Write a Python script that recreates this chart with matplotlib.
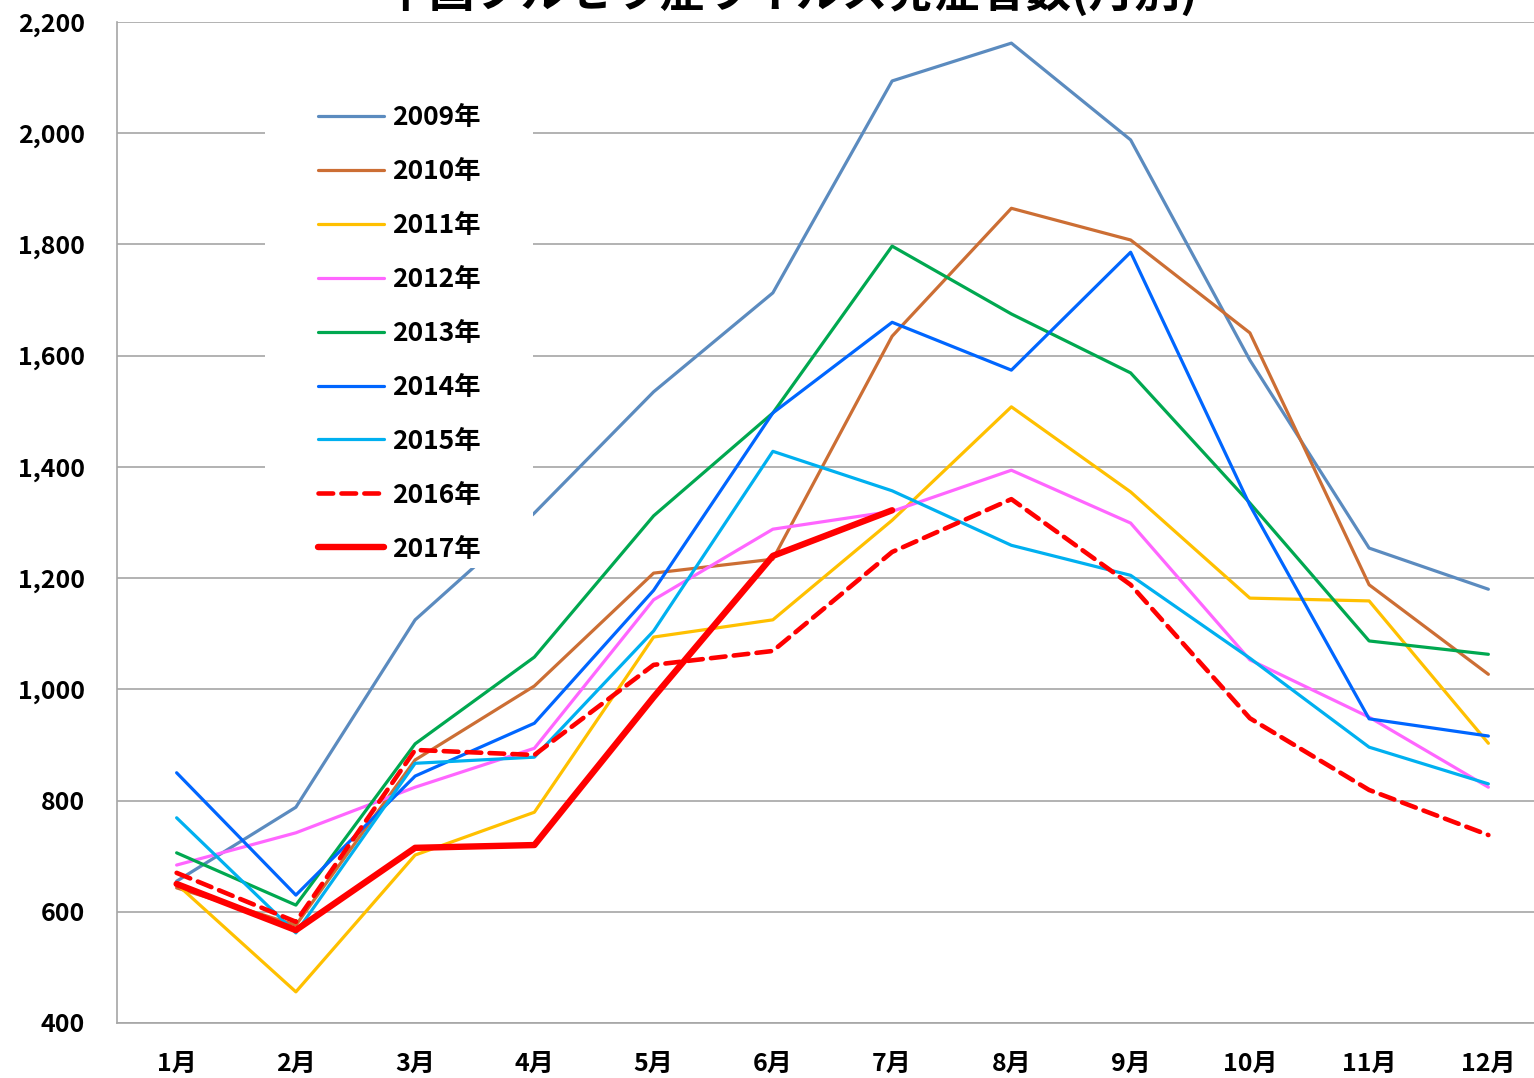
import matplotlib
matplotlib.use("Agg")
import matplotlib.pyplot as plt
from matplotlib.ticker import FuncFormatter
from matplotlib.patches import Rectangle

plt.rcParams['font.family'] = ['Noto Sans CJK JP', 'DejaVu Sans']

months = ['1月', '2月', '3月', '4月', '5月', '6月', '7月', '8月', '9月', '10月', '11月', '12月']
title = '中国ブルセラ症ウイルス発症者数(月別)'

y2009 = [655, 788, 1125, 1317, 1535, 1713, 2094, 2162, 1988, 1592, 1254, 1180]
y2010 = [643, 576, 873, 1006, 1209, 1234, 1635, 1865, 1808, 1641, 1188, 1027]
y2011 = [650, 456, 702, 779, 1094, 1125, 1304, 1508, 1355, 1164, 1159, 903]
y2012 = [684, 742, 824, 894, 1161, 1288, 1320, 1394, 1299, 1053, 950, 824]
y2013 = [706, 612, 902, 1058, 1312, 1497, 1797, 1675, 1569, 1335, 1087, 1063]
y2014 = [850, 630, 844, 939, 1178, 1497, 1660, 1574, 1786, 1331, 947, 916]
y2015 = [769, 562, 867, 878, 1105, 1428, 1357, 1259, 1205, 1056, 896, 830]
y2016 = [670, 582, 891, 882, 1044, 1069, 1247, 1342, 1188, 948, 819, 738]
y2017 = [650, 567, 715, 720, 986, 1240, 1322]

series = [
    ('2009年', y2009, '#5B8BBF', 2.3, '-'),
    ('2010年', y2010, '#CC6E34', 2.3, '-'),
    ('2011年', y2011, '#FFC000', 2.3, '-'),
    ('2012年', y2012, '#FF66FF', 2.3, '-'),
    ('2013年', y2013, '#00A850', 2.3, '-'),
    ('2014年', y2014, '#0066FF', 2.3, '-'),
    ('2015年', y2015, '#00B0F0', 2.3, '-'),
    ('2016年', y2016, '#FF0000', 3.3, '--'),
    ('2017年', y2017, '#FF0000', 4.6, '-'),
]

fig = plt.figure(figsize=(15.34, 10.78), dpi=100)
ax = fig.add_axes([117/1534, 55/1078, (1548-117)/1534, 1001/1078])

x = list(range(len(months)))
for name, vals, col, lw, ls in series:
    kw = {}
    if ls == '--':
        kw['dashes'] = (3.2, 1.8)
    ax.plot(x[:len(vals)], vals, color=col, lw=lw, ls=ls, label=name,
            solid_capstyle='round', dash_capstyle='round', **kw)

ax.set_xlim(-0.5, 11.5)
ax.set_ylim(400, 2200)
ax.set_yticks(range(400, 2201, 200))
ax.yaxis.set_major_formatter(FuncFormatter(lambda v, p: f'{int(v):,}'))
ax.set_xticks(x)
ax.set_xticklabels(months)
ax.grid(axis='y', color='#A6A6A6', lw=1.2)
ax.set_axisbelow(True)
for s in ['top', 'right']:
    ax.spines[s].set_visible(False)
for s in ['left', 'bottom']:
    ax.spines[s].set_color('#A6A6A6')
    ax.spines[s].set_linewidth(1.2)
ax.tick_params(length=0, labelsize=18)
ax.tick_params(axis='y', pad=23)
ax.tick_params(axis='x', pad=21)
for lab in ax.get_xticklabels() + ax.get_yticklabels():
    lab.set_fontweight('bold')

# white legend background area
ax.add_patch(Rectangle((0.1034, 0.455), 0.187, 0.477, transform=ax.transAxes,
                       facecolor='white', edgecolor='none', zorder=4))

leg = ax.legend(loc='upper left', bbox_to_anchor=(0.126, 0.939), frameon=False,
                prop={'size': 19, 'weight': 'bold'}, handlelength=2.5,
                labelspacing=1.02, handletextpad=0.3, borderpad=0.3)
leg.set_zorder(5)

fig.text(0.515, 1.0 + 8/1078, title, ha='center', va='center', fontsize=33, fontweight='bold')

fig.savefig('out.png', dpi=100)
